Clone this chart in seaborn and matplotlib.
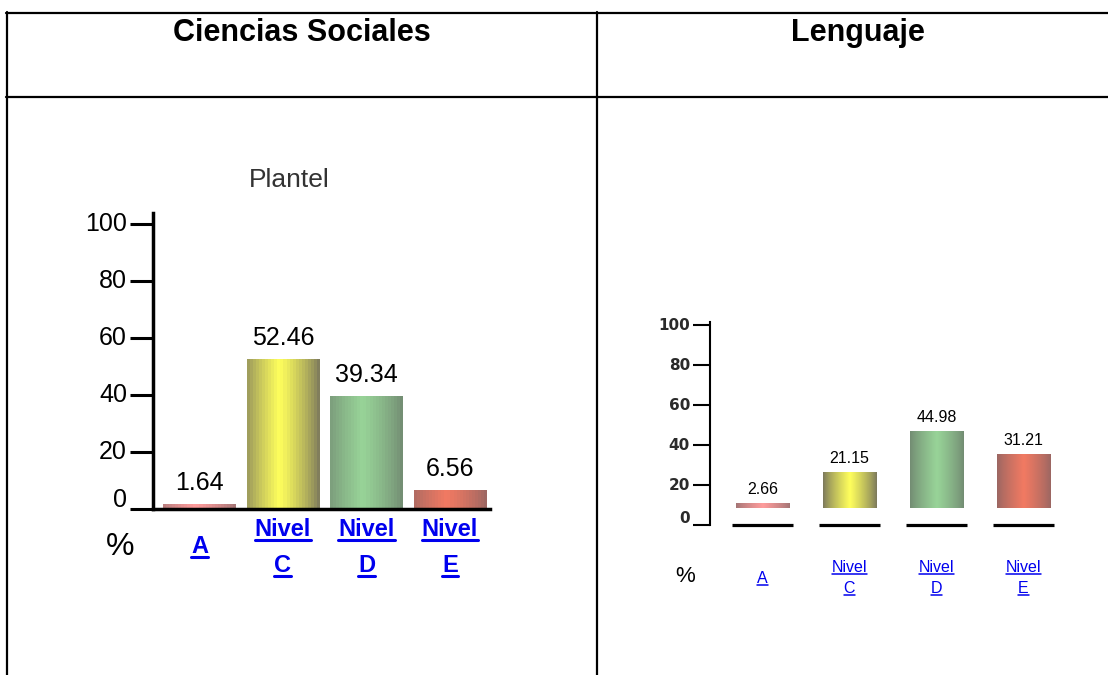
import numpy as np
import pandas as pd
import matplotlib
matplotlib.use("Agg")
import matplotlib.pyplot as plt
import seaborn as sns
from matplotlib.lines import Line2D
from matplotlib.colors import LinearSegmentedColormap

# --- data ---
categories = ["A", "Nivel C", "Nivel D", "Nivel E"]
sociales_vals = [1.64, 52.46, 39.34, 6.56]
lenguaje_vals = [2.66, 21.15, 44.98, 31.21]
y_ticks = [0, 20, 40, 60, 80, 100]
headers = ["Ciencias Sociales", "Lenguaje"]
left_title = "Plantel"

# (edge shade, centre highlight) for each bar
bar_colors = [("#a07474", "#ff9c9c"), ("#78755c", "#ffff5c"),
              ("#728a72", "#98d498"), ("#986662", "#f27a62")]

W, H = 1108, 675
LINK = "#0000ee"

sns.set_style("white")
plt.rcParams["font.family"] = ["Liberation Sans", "DejaVu Sans"]
plt.rcParams["text.color"] = "black"

fig = plt.figure(figsize=(W / 100, H / 100), dpi=100)


def fx(px):
    return px / W


def fy(py):
    return 1 - py / H


def px_axes(left, top, right, bottom):
    return fig.add_axes([fx(left), fy(bottom), (right - left) / W, (bottom - top) / H])


def shade_bars(ax, steps, peak, interp):
    # cylinder-like horizontal gradient clipped to each bar
    t = (np.arange(steps) + 0.5) / steps
    v = np.clip(1 - np.abs(t - peak) / max(peak, 1 - peak), 0, 1) ** 0.8
    for patch, (edge, centre) in zip(ax.patches, bar_colors):
        cmap = LinearSegmentedColormap.from_list("", [edge, centre])
        x0, y0 = patch.get_x(), patch.get_y()
        w, h = patch.get_width(), patch.get_height()
        im = ax.imshow(v[None, :], cmap=cmap, vmin=0, vmax=1, aspect="auto",
                       extent=[x0, x0 + w, y0, y0 + h], interpolation=interp,
                       zorder=patch.get_zorder())
        im.set_clip_path(patch)
        patch.set_facecolor("none")
        patch.set_linewidth(0)


def tick_texts(ax, size, gap, zero_raise, **kw):
    for v in y_ticks:
        dy = zero_raise if v == 0 else 0
        ax.annotate(str(v), xy=(0, v), xycoords=ax.get_yaxis_transform(),
                    xytext=(-gap, dy), textcoords="offset points",
                    ha="right", va="center", fontsize=size, **kw)


def link_labels(ax, size, weight, offsets, single_offset, gap, lw):
    made = []
    for i, cat in enumerate(categories):
        words = cat.split()
        offs = offsets if len(words) > 1 else [single_offset]
        x, y0 = ax.transData.transform((i, 0))
        for word, off in zip(words, offs):
            t = fig.text(x / W, (y0 - off) / H, word, ha="center", va="baseline",
                         fontsize=size, fontweight=weight, color=LINK)
            made.append((t, y0 - off - gap, lw))
    return made


# --- table frame ---
for x0, y0, x1, y1 in [(6, 13, W, 13), (6, 97, W, 97), (7, 12, 7, H), (597, 12, 597, H)]:
    fig.add_artist(Line2D([fx(x0), fx(x1)], [fy(y0), fy(y1)], color="black",
                          lw=1.6, transform=fig.transFigure))

fig.text(fx(302), fy(33), headers[0], ha="center", va="center", fontsize=22, fontweight="bold")
fig.text(fx(858), fy(33), headers[1], ha="center", va="center", fontsize=22, fontweight="bold")

# --- left chart: Ciencias Sociales ---
axL = px_axes(153, 213, 490, 508.5)
df_l = pd.DataFrame({"nivel": categories, "pct": sociales_vals})
sns.barplot(data=df_l, x="nivel", y="pct", ax=axL, width=0.87, color="grey",
            saturation=1, linewidth=0)
axL.bar_label(axL.containers[0], fmt="%.2f", padding=6.5, fontsize=18, color="black")
shade_bars(axL, 24, 0.45, "nearest")
axL.set_xlim(-0.557, 3.48)
axL.set_ylim(0, 103.7)
sns.despine(ax=axL)
for s in ("left", "bottom"):
    axL.spines[s].set_linewidth(2.5)
    axL.spines[s].set_color("black")
axL.set_yticks(y_ticks)
axL.tick_params(axis="y", left=True, length=16.5, width=2.2, direction="out",
                color="black", labelleft=False)
axL.tick_params(axis="x", bottom=False, labelbottom=False)
axL.set_xlabel("")
axL.set_ylabel("")
tick_texts(axL, 18, 18.7, 6.1, color="black")

fig.text(fx(289), fy(180), left_title, ha="center", va="center", fontsize=19, color="#333333")
fig.text(fx(120), fy(547), "%", ha="center", va="center", fontsize=23)
links = link_labels(axL, 17, "bold", [27.5, 63.5], 44.5, 4, 2.2)

# --- right chart: Lenguaje ---
axR = px_axes(710, 322, 1060, 525)
axR.set_xlim(-0.603, 3.42)
axR.set_ylim(0, 101.5)
pos = np.arange(len(categories))
axR.hlines(np.zeros(len(pos)), pos - 0.35, pos + 0.35, color="black", lw=2.3, clip_on=False)
sns.despine(ax=axR, bottom=True)
axR.spines["left"].set_linewidth(1.5)
axR.spines["left"].set_color("black")
axR.set_yticks(y_ticks)
axR.set_xticks([])
axR.tick_params(axis="y", left=True, length=12.2, width=1.5, direction="out",
                color="black", labelleft=False)
tick_texts(axR, 11, 14.4, 5, family="DejaVu Sans", fontweight="bold", color="#2a2a2a")

# bars live in their own panel (floating above the baseline, own scale)
axB = px_axes(710, 336.4, 1060, 508)
df_r = pd.DataFrame({"nivel": categories, "pct": lenguaje_vals})
sns.barplot(data=df_r, x="nivel", y="pct", ax=axB, width=0.61, color="grey",
            saturation=1, linewidth=0)
axB.bar_label(axB.containers[0], fmt="%.2f", padding=4.3, fontsize=11.5, color="black")
shade_bars(axB, 64, 0.5, "bilinear")
axB.set_xlim(-0.603, 3.42)
axB.set_ylim(0, 100)
axB.axis("off")
axB.patch.set_alpha(0)

fig.text(fx(685), fy(577), "%", ha="center", va="center", fontsize=16)
links += link_labels(axR, 11.5, "normal", [47, 68], 58, 2, 1.1)

# underline the link-style labels once text sizes are known
fig.canvas.draw()
r = fig.canvas.get_renderer()
for t, y, lw in links:
    bb = t.get_window_extent(r)
    fig.add_artist(Line2D([bb.x0 / W, bb.x1 / W], [y / H, y / H], color=LINK,
                          lw=lw, transform=fig.transFigure))

fig.savefig("out.png", dpi=100)
